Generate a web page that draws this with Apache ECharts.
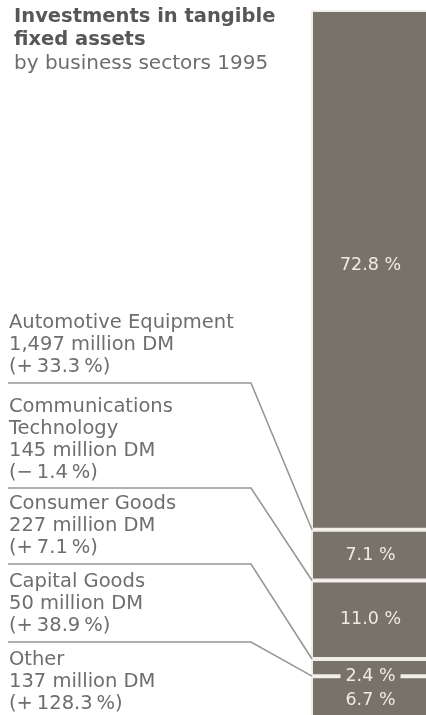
<!DOCTYPE html>
<html>
<head>
<meta charset="utf-8">
<script src="https://cdn.jsdelivr.net/npm/echarts@6/dist/echarts.min.js"></script>
<style>
  html, body { margin: 0; padding: 0; background: #ffffff; }
  #chart { width: 426px; height: 715px; }
</style>
</head>
<body>
<div id="chart"></div>
<script>
// Business sectors, top to bottom in the column
const sectors = ['Automotive Equipment', 'Communications\nTechnology', 'Consumer Goods', 'Capital Goods', 'Other'];
// Investments in million DM
const amounts = [1497, 145, 227, 50, 137];
// Change against previous year, %
const changes = [33.3, -1.4, 7.1, 38.9, 128.3];
// Share of total investments, %
const shares = [72.8, 7.1, 11.0, 2.4, 6.7];
const yearLabel = ['1995'];

const BAR_COLOR = '#77726a';
const SEP_COLOR = '#f1eee8';
const TEXT_COLOR = '#6e6e6e';
const FONT = '"DejaVu Sans", sans-serif';
const THIN = '\u2009';

// text blocks on the left: top of first line, y of the rule below
const blockTops = [312, 396, 493, 571, 649];
const ruleYs = [383, 488, 564, 642, null];
const GRID_LEFT = 311;

function fmtAmount(v) {
  return v.toLocaleString('en-US') + ' million DM';
}
function fmtChange(v) {
  const sign = v < 0 ? '\u2212' : '+';
  return '(' + sign + THIN + Math.abs(v).toFixed(1) + THIN + '%)';
}

const chart = echarts.init(document.getElementById('chart'), null, { renderer: 'canvas' });

// stack from the bottom of the column upward
const order = sectors.map((_, i) => i).reverse();
const series = order.map(i => {
  const isSmall = sectors[i] === 'Capital Goods';
  const isLarge = i === 0;
  return {
    name: sectors[i],
    type: 'bar',
    stack: 'total',
    barWidth: '100%',
    data: [shares[i]],
    itemStyle: { color: BAR_COLOR, borderColor: SEP_COLOR, borderWidth: 2 },
    label: {
      show: true,
      position: isSmall ? 'insideBottom' : 'inside',
      distance: isSmall ? -10 : 5,
      offset: isLarge ? [0, -4] : [0, 0],
      formatter: p => p.value.toFixed(1) + ' %',
      color: '#efebe3',
      fontFamily: FONT,
      fontSize: 17.5,
      backgroundColor: isSmall ? BAR_COLOR : 'transparent',
      padding: isSmall ? [1, 5, 1, 5] : 0
    },
    emphasis: { disabled: true },
    animation: false
  };
});

chart.setOption({
  animation: false,
  title: {
    text: 'Investments in tangible\nfixed assets',
    subtext: 'by business sectors 1995',
    left: 9,
    top: 0,
    itemGap: 1,
    textStyle: { fontFamily: FONT, fontSize: 19.5, fontWeight: 'bold', color: '#575757', lineHeight: 23 },
    subtextStyle: { fontFamily: FONT, fontSize: 20, color: TEXT_COLOR, lineHeight: 23 }
  },
  grid: { left: GRID_LEFT, right: -4, top: 10, height: 714, outerBoundsMode: 'none', containLabel: false },
  xAxis: { type: 'category', data: yearLabel, show: false },
  yAxis: { type: 'value', min: 0, max: 100, show: false },
  series: series
});

// connectors from each text block to the lower edge of its segment
const elements = [];
let cum = 0;
sectors.forEach((name, i) => {
  cum += shares[i];
  elements.push({
    type: 'text',
    left: 9,
    top: blockTops[i],
    style: {
      text: name + '\n' + fmtAmount(amounts[i]) + '\n' + fmtChange(changes[i]),
      fontFamily: FONT,
      fontSize: 19.5,
      lineHeight: 22,
      fill: TEXT_COLOR
    }
  });
  if (ruleYs[i] !== null) {
    const yEdge = chart.convertToPixel({ yAxisIndex: 0 }, 100 - cum);
    elements.push({
      type: 'polyline',
      shape: { points: [[8, ruleYs[i]], [251, ruleYs[i]], [GRID_LEFT + 1, yEdge]] },
      style: { stroke: '#979797', lineWidth: 1.6, fill: null },
      z: 10
    });
  }
});
chart.setOption({ graphic: { elements: elements } });
</script>
</body>
</html>
